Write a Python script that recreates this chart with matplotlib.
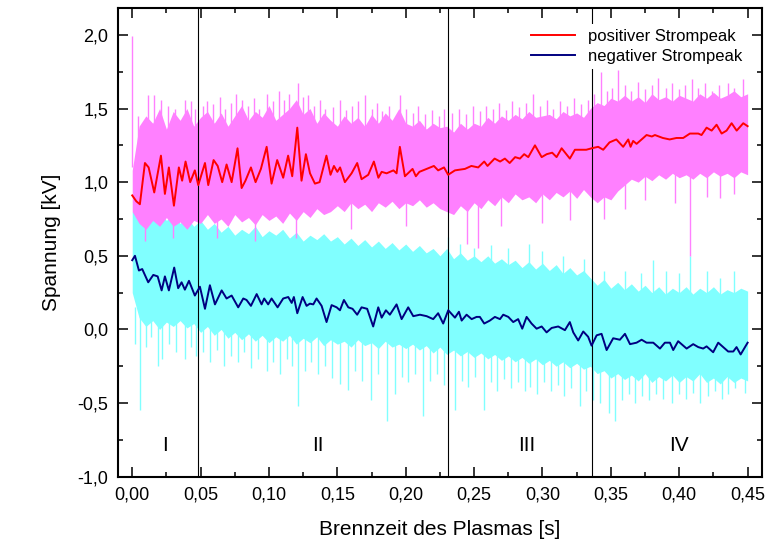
import numpy as np
import matplotlib
matplotlib.use("Agg")
import matplotlib.pyplot as plt
from matplotlib.ticker import MultipleLocator, FuncFormatter

plt.rcParams['font.family'] = ['Liberation Sans', 'DejaVu Sans']

# smoothed curves
red_t = [0.000, 0.003, 0.0056, 0.0093, 0.012, 0.0161, 0.021, 0.0239, 0.0268, 0.0305,
         0.0341, 0.0365, 0.039, 0.0424, 0.0458, 0.0483, 0.0532, 0.0556, 0.0595, 0.0625,
         0.0658, 0.069, 0.0727, 0.077, 0.080, 0.0828, 0.0868, 0.0902, 0.0941, 0.0983,
         0.1019, 0.106, 0.1104, 0.114, 0.117, 0.1207, 0.1238, 0.127, 0.130, 0.1336,
         0.137, 0.142, 0.145, 0.1475, 0.150, 0.152, 0.1555, 0.1604, 0.1645, 0.1677,
         0.1726, 0.1767, 0.180, 0.1824, 0.186, 0.191, 0.1933, 0.1957, 0.1994, 0.205,
         0.2074, 0.210, 0.2153, 0.2206, 0.2237, 0.228, 0.231, 0.236, 0.2433, 0.248,
         0.253, 0.2574, 0.2598, 0.265, 0.269, 0.2725, 0.276, 0.280, 0.2835, 0.2866,
         0.2896, 0.2945, 0.2994, 0.3031, 0.3071, 0.3103, 0.314, 0.320, 0.3237, 0.3286,
         0.332, 0.336, 0.3407, 0.3444, 0.349, 0.354, 0.359, 0.3627, 0.3644, 0.3663,
         0.3688, 0.3737, 0.3761, 0.380, 0.3822, 0.388, 0.393, 0.398, 0.4029, 0.4078,
         0.4139, 0.4163, 0.420, 0.4237, 0.4273, 0.431, 0.4346, 0.4383, 0.442, 0.4468,
         0.450]
red_v = [0.91, 0.87, 0.85, 1.13, 1.10, 0.93, 1.18, 0.92, 1.10, 0.84,
         1.10, 1.01, 1.14, 1.00, 1.08, 0.98, 1.13, 0.98, 1.15, 1.11,
         1.00, 1.12, 1.00, 1.23, 0.96, 1.01, 1.10, 1.00, 1.09, 1.24,
         0.99, 1.15, 1.03, 1.18, 1.04, 1.37, 1.01, 1.19, 1.06, 0.99,
         1.00, 1.18, 1.05, 1.11, 1.07, 1.10, 1.00, 1.06, 1.13, 1.02,
         1.05, 1.14, 1.03, 1.07, 1.06, 1.08, 1.06, 1.24, 1.04, 1.09,
         1.04, 1.07, 1.09, 1.11, 1.08, 1.10, 1.05, 1.08, 1.09, 1.11,
         1.10, 1.14, 1.11, 1.16, 1.14, 1.16, 1.13, 1.17, 1.16, 1.19,
         1.17, 1.25, 1.17, 1.19, 1.20, 1.17, 1.23, 1.16, 1.22, 1.22,
         1.22, 1.23, 1.24, 1.22, 1.27, 1.29, 1.24, 1.29, 1.24, 1.28,
         1.26, 1.30, 1.32, 1.31, 1.32, 1.30, 1.29, 1.30, 1.30, 1.33,
         1.33, 1.32, 1.37, 1.35, 1.39, 1.33, 1.35, 1.40, 1.35, 1.40,
         1.38]

blue_t = [0.000, 0.002, 0.0049, 0.0073, 0.0117, 0.0154, 0.0186, 0.0215, 0.0239, 0.0268,
          0.0307, 0.0336, 0.0361, 0.0385, 0.0415, 0.0458, 0.0495, 0.0532, 0.0568, 0.0605,
          0.0654, 0.069, 0.0727, 0.0775, 0.0812, 0.0836, 0.0868, 0.091, 0.0946, 0.0965,
          0.0994, 0.1019, 0.1063, 0.1104, 0.1141, 0.1166, 0.1182, 0.1207, 0.1246, 0.1275,
          0.1299, 0.1324, 0.1348, 0.1385, 0.1421, 0.1458, 0.1495, 0.1519, 0.1548, 0.158,
          0.1611, 0.1645, 0.1677, 0.1718, 0.1762, 0.1799, 0.1824, 0.1855, 0.1884, 0.1933,
          0.197, 0.2018, 0.2055, 0.2104, 0.2153, 0.2201, 0.2237, 0.2274, 0.2311, 0.236,
          0.2389, 0.2409, 0.2445, 0.2482, 0.2518, 0.2542, 0.2574, 0.2615, 0.2652, 0.2689,
          0.2713, 0.275, 0.2786, 0.2822, 0.2852, 0.2884, 0.292, 0.2957, 0.2994, 0.303,
          0.3067, 0.3115, 0.3164, 0.320, 0.3225, 0.3261, 0.3298, 0.3334, 0.3359, 0.3396,
          0.3432, 0.3469, 0.3517, 0.3566, 0.3603, 0.364, 0.3688, 0.3725, 0.3761, 0.381,
          0.3859, 0.3895, 0.3932, 0.3956, 0.3992, 0.4029, 0.4054, 0.4102, 0.4139, 0.4175,
          0.420, 0.4248, 0.4285, 0.4321, 0.4358, 0.4395, 0.4419, 0.4449, 0.450]
blue_v = [0.47, 0.50, 0.40, 0.41, 0.32, 0.37, 0.36, 0.265, 0.36, 0.265,
          0.42, 0.28, 0.32, 0.27, 0.33, 0.23, 0.29, 0.14, 0.30, 0.17,
          0.265, 0.21, 0.23, 0.15, 0.21, 0.20, 0.16, 0.24, 0.17, 0.21,
          0.17, 0.21, 0.15, 0.21, 0.22, 0.18, 0.22, 0.11, 0.22, 0.16,
          0.175, 0.17, 0.21, 0.16, 0.05, 0.165, 0.15, 0.13, 0.20, 0.15,
          0.14, 0.10, 0.15, 0.14, 0.02, 0.15, 0.08, 0.13, 0.10, 0.17,
          0.07, 0.15, 0.09, 0.10, 0.09, 0.07, 0.11, 0.04, 0.13, 0.08,
          0.12, 0.06, 0.10, 0.07, 0.085, 0.085, 0.04, 0.06, 0.085, 0.07,
          0.10, 0.085, 0.05, 0.07, 0.005, 0.085, 0.04, 0.005, 0.02, -0.02,
          0.01, 0.02, -0.005, 0.05, -0.02, -0.075, -0.014, -0.05, -0.11, -0.04,
          -0.03, -0.14, -0.06, -0.07, -0.03, -0.10, -0.09, -0.07, -0.09, -0.09,
          -0.13, -0.09, -0.09, -0.14, -0.08, -0.11, -0.13, -0.10, -0.12, -0.13,
          -0.115, -0.155, -0.09, -0.12, -0.15, -0.15, -0.12, -0.17, -0.09]

# raw-signal envelopes every 5 ms
band_t = np.linspace(0, 0.45, 91)
pos_hi = [1.08, 1.38, 1.45, 1.40, 1.50, 1.36, 1.48, 1.42, 1.50, 1.38, 1.44,
          1.48, 1.40, 1.47, 1.38, 1.45, 1.52, 1.42, 1.48, 1.44, 1.52,
          1.42, 1.46, 1.50, 1.56, 1.46, 1.50, 1.40, 1.47, 1.42, 1.38,
          1.45, 1.40, 1.44, 1.38, 1.46, 1.40, 1.47, 1.42, 1.50, 1.40,
          1.38, 1.42, 1.36, 1.40, 1.37, 1.38, 1.34, 1.40, 1.36, 1.40,
          1.38, 1.44, 1.40, 1.45, 1.42, 1.46, 1.43, 1.48, 1.44, 1.45,
          1.46, 1.43, 1.48, 1.45, 1.47, 1.44, 1.50, 1.54, 1.52, 1.57,
          1.55, 1.59, 1.55, 1.58, 1.54, 1.60, 1.56, 1.58, 1.55, 1.59,
          1.57, 1.55, 1.60, 1.57, 1.61, 1.57, 1.59, 1.62, 1.58, 1.60]
pos_lo = [0.80, 0.72, 0.68, 0.74, 0.70, 0.76, 0.70, 0.73, 0.68, 0.74, 0.72,
          0.78, 0.72, 0.75, 0.70, 0.78, 0.73, 0.76, 0.71, 0.78, 0.74,
          0.77, 0.72, 0.79, 0.74, 0.80, 0.76, 0.82, 0.78, 0.80, 0.84,
          0.80, 0.86, 0.82, 0.85, 0.80, 0.86, 0.83, 0.87, 0.82, 0.86,
          0.84, 0.88, 0.83, 0.86, 0.82, 0.80, 0.78, 0.84, 0.80, 0.86,
          0.82, 0.88, 0.84, 0.90, 0.86, 0.92, 0.88, 0.90, 0.86, 0.92,
          0.88, 0.93, 0.90, 0.94, 0.89, 0.95, 0.90, 0.86, 0.90, 0.88,
          0.94, 0.98, 1.02, 1.00, 1.04, 1.01, 1.05, 1.02, 1.06, 1.03,
          1.05, 1.02, 1.06, 1.03, 1.07, 1.04, 1.06, 1.03, 1.07, 1.05]
neg_hi = [0.80, 0.78, 0.82, 0.76, 0.80, 0.74, 0.78, 0.72, 0.76, 0.70, 0.74,
          0.68, 0.72, 0.66, 0.70, 0.64, 0.68, 0.65, 0.70, 0.63, 0.67,
          0.64, 0.68, 0.62, 0.66, 0.60, 0.64, 0.61, 0.65, 0.60, 0.63,
          0.58, 0.62, 0.57, 0.61, 0.56, 0.60, 0.55, 0.59, 0.54, 0.58,
          0.53, 0.57, 0.52, 0.55, 0.50, 0.55, 0.48, 0.52, 0.47, 0.50,
          0.46, 0.50, 0.45, 0.48, 0.44, 0.47, 0.42, 0.46, 0.41, 0.45,
          0.40, 0.44, 0.38, 0.42, 0.37, 0.40, 0.35, 0.30, 0.34, 0.28,
          0.32, 0.27, 0.31, 0.26, 0.30, 0.25, 0.29, 0.24, 0.28, 0.25,
          0.29, 0.24, 0.28, 0.25, 0.29, 0.24, 0.27, 0.25, 0.28, 0.26]
neg_lo = [0.25, 0.08, 0.02, 0.06, 0.00, 0.05, 0.02, 0.06, 0.01, 0.04, -0.02,
          0.02, -0.04, 0.00, -0.06, -0.02, -0.07, -0.03, -0.08, -0.04, -0.09,
          -0.05, -0.08, -0.04, -0.10, -0.06, -0.09, -0.05, -0.11, -0.07, -0.10,
          -0.08, -0.12, -0.07, -0.11, -0.09, -0.13, -0.08, -0.12, -0.10, -0.13,
          -0.10, -0.14, -0.11, -0.16, -0.12, -0.17, -0.14, -0.18, -0.15, -0.19,
          -0.16, -0.20, -0.17, -0.21, -0.18, -0.22, -0.19, -0.23, -0.20, -0.24,
          -0.21, -0.25, -0.22, -0.26, -0.23, -0.27, -0.25, -0.30, -0.28, -0.33,
          -0.30, -0.34, -0.31, -0.35, -0.30, -0.36, -0.32, -0.35, -0.31, -0.36,
          -0.32, -0.35, -0.30, -0.36, -0.33, -0.37, -0.32, -0.36, -0.33, -0.35]

# single spikes of the raw signal sticking out of the bands
pos_up_t = [0.000, 0.004, 0.0117, 0.0161, 0.0207, 0.026, 0.031, 0.0385, 0.043, 0.046,
            0.052, 0.055, 0.059, 0.064, 0.068, 0.072, 0.076, 0.080, 0.085, 0.089,
            0.093, 0.0983, 0.103, 0.107, 0.111, 0.115, 0.1215, 0.125, 0.1287, 0.133,
            0.137, 0.141, 0.147, 0.152, 0.156, 0.161, 0.165, 0.170, 0.175, 0.179,
            0.183, 0.188, 0.1957, 0.200, 0.205, 0.209, 0.214, 0.219, 0.224, 0.228,
            0.234, 0.239, 0.244, 0.249, 0.254, 0.259, 0.264, 0.268, 0.273, 0.278,
            0.283, 0.288, 0.293, 0.298, 0.303, 0.308, 0.313, 0.318, 0.323, 0.328,
            0.333, 0.338, 0.343, 0.347, 0.3505, 0.3554, 0.360, 0.365, 0.370, 0.375,
            0.380, 0.3846, 0.390, 0.395, 0.400, 0.404, 0.409, 0.414, 0.419, 0.424,
            0.429, 0.4358, 0.440, 0.4468]
pos_up_v = [1.99, 1.45, 1.59, 1.59, 1.56, 1.52, 1.50, 1.56, 1.55, 1.50,
            1.52, 1.55, 1.53, 1.58, 1.50, 1.54, 1.60, 1.56, 1.52, 1.57,
            1.50, 1.60, 1.55, 1.62, 1.56, 1.60, 1.67, 1.58, 1.59, 1.52,
            1.56, 1.50, 1.51, 1.56, 1.49, 1.52, 1.55, 1.59, 1.50, 1.54,
            1.48, 1.52, 1.59, 1.50, 1.47, 1.52, 1.46, 1.49, 1.45, 1.50,
            1.47, 1.50, 1.46, 1.52, 1.48, 1.52, 1.50, 1.54, 1.49, 1.55,
            1.51, 1.54, 1.60, 1.52, 1.56, 1.50, 1.55, 1.52, 1.57, 1.53,
            1.56, 1.60, 1.75, 1.62, 1.64, 1.76, 1.66, 1.62, 1.68, 1.63,
            1.66, 1.71, 1.64, 1.67, 1.63, 1.66, 1.70, 1.64, 1.67, 1.62,
            1.66, 1.67, 1.64, 1.70]
pos_dn_t = [0.009, 0.030, 0.062, 0.090, 0.120, 0.160, 0.200, 0.2445, 0.253, 0.270,
            0.300, 0.320, 0.345, 0.360, 0.375, 0.397, 0.408, 0.420, 0.430, 0.440]
pos_dn_v = [0.60, 0.62, 0.62, 0.60, 0.62, 0.68, 0.70, 0.58, 0.55, 0.70,
            0.72, 0.74, 0.75, 0.82, 0.88, 0.86, 0.50, 0.90, 0.89, 0.92]
neg_up_t = [0.231, 0.240, 0.250, 0.262, 0.275, 0.290, 0.300, 0.315, 0.330, 0.345,
            0.360, 0.372, 0.381, 0.390, 0.400, 0.408, 0.420, 0.430, 0.440]
neg_up_v = [0.63, 0.58, 0.55, 0.57, 0.55, 0.58, 0.53, 0.50, 0.48, 0.40,
            0.40, 0.38, 0.47, 0.40, 0.38, 0.50, 0.40, 0.35, 0.40]
neg_dn_t = [0.002, 0.0056, 0.010, 0.014, 0.0186, 0.022, 0.027, 0.032, 0.0385, 0.043,
            0.047, 0.052, 0.057, 0.062, 0.067, 0.072, 0.077, 0.082, 0.087, 0.092,
            0.0983, 0.103, 0.108, 0.113, 0.117, 0.1214, 0.126, 0.131, 0.136, 0.141,
            0.146, 0.152, 0.158, 0.163, 0.168, 0.1743, 0.180, 0.186, 0.192, 0.197,
            0.202, 0.207, 0.2128, 0.218, 0.223, 0.228, 0.236, 0.241, 0.2457, 0.251,
            0.2574, 0.262, 0.267, 0.272, 0.277, 0.282, 0.287, 0.291, 0.296, 0.301,
            0.306, 0.311, 0.316, 0.321, 0.3274, 0.332, 0.337, 0.342, 0.349, 0.353,
            0.358, 0.363, 0.368, 0.373, 0.378, 0.383, 0.388, 0.395, 0.400, 0.405,
            0.410, 0.415, 0.421, 0.426, 0.431, 0.436, 0.441, 0.448]
neg_dn_v = [-0.10, -0.55, -0.12, -0.05, -0.245, -0.20, -0.10, -0.15, -0.20, -0.12,
            -0.18, -0.15, -0.22, -0.14, -0.25, -0.18, -0.22, -0.15, -0.26, -0.20,
            -0.28, -0.22, -0.30, -0.20, -0.25, -0.52, -0.28, -0.22, -0.30, -0.25,
            -0.33, -0.37, -0.41, -0.28, -0.35, -0.48, -0.30, -0.62, -0.44, -0.32,
            -0.36, -0.30, -0.59, -0.35, -0.30, -0.38, -0.55, -0.35, -0.39, -0.32,
            -0.55, -0.36, -0.42, -0.34, -0.40, -0.36, -0.42, -0.39, -0.44, -0.36,
            -0.42, -0.38, -0.45, -0.40, -0.52, -0.42, -0.48, -0.50, -0.57, -0.62,
            -0.48, -0.44, -0.50, -0.45, -0.48, -0.44, -0.47, -0.50, -0.44, -0.47,
            -0.43, -0.50, -0.45, -0.42, -0.47, -0.44, -0.40, -0.43]

phase_lines = [0.0483, 0.231, 0.336]
phase_names = ['I', 'II', 'III', 'IV']
phase_pos = [0.024, 0.136, 0.2885, 0.400]

pink = '#ff80ff'
cyan = '#80ffff'

fig = plt.figure(figsize=(7.71, 5.58), dpi=100)
ax = fig.add_axes([0.1534, 0.1457, 0.8349, 0.8393])

ax.fill_between(band_t, neg_lo, neg_hi, color=cyan, lw=0)
ax.vlines(neg_up_t, 0.15, neg_up_v, color=cyan, lw=1.0)
ax.vlines(neg_dn_t, 0.15, neg_dn_v, color=cyan, lw=1.0)
ax.fill_between(band_t, pos_lo, pos_hi, color=pink, lw=0)
ax.vlines(pos_up_t, 1.1, pos_up_v, color=pink, lw=1.0)
ax.vlines(pos_dn_t, 1.1, pos_dn_v, color=pink, lw=1.0)

for x in phase_lines:
    ax.axvline(x, color='black', lw=0.8, zorder=2.5)

ax.plot(red_t, red_v, color='#ff0000', lw=1.4, solid_joinstyle='round', zorder=3,
        label='positiver Strompeak')
ax.plot(blue_t, blue_v, color='#000080', lw=1.4, solid_joinstyle='round', zorder=3,
        label='negativer Strompeak')

for name, x in zip(phase_names, phase_pos):
    ax.text(x, -0.79, name, ha='center', va='center', fontsize=15)

ax.set_xlim(-0.0102, 0.4605)
ax.set_ylim(-1.0, 2.18)
ax.xaxis.set_major_locator(MultipleLocator(0.05))
ax.xaxis.set_minor_locator(MultipleLocator(0.025))
ax.yaxis.set_major_locator(MultipleLocator(0.5))
ax.yaxis.set_minor_locator(MultipleLocator(0.25))
ax.xaxis.set_major_formatter(FuncFormatter(lambda v, p: f'{v:.2f}'.replace('.', ',')))
ax.yaxis.set_major_formatter(FuncFormatter(lambda v, p: f'{v:.1f}'.replace('.', ',')))
ax.tick_params(which='both', direction='in', top=True, right=True, width=1.1, labelsize=13)
ax.tick_params(which='major', length=7, pad=7)
ax.tick_params(which='minor', length=3.6)
for s in ax.spines.values():
    s.set_linewidth(1.5)

ax.set_xlabel('Brennzeit des Plasmas [s]', fontsize=15, labelpad=12)
ax.set_ylabel('Spannung [kV]', fontsize=15, labelpad=12)

leg = ax.legend(loc='upper right', bbox_to_anchor=(0.99, 0.985), fontsize=12,
                frameon=True, fancybox=False, edgecolor='none', facecolor='white',
                framealpha=1, handlelength=2.6, borderpad=0.3, labelspacing=0.3)
leg.set_zorder(5)

fig.savefig('out.png', dpi=100)
